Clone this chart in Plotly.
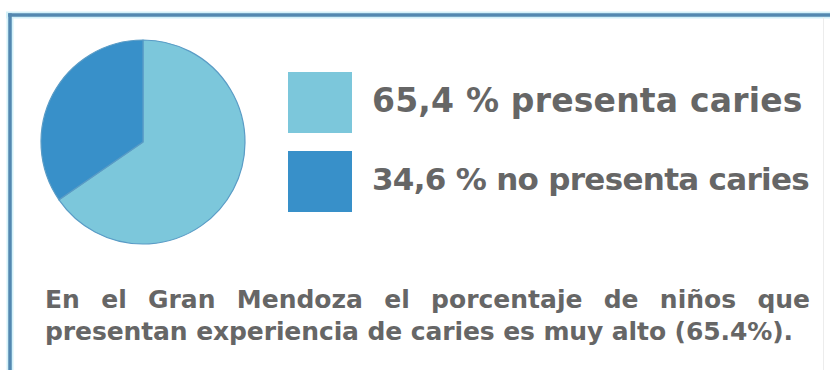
import plotly.graph_objects as go

W, H = 830, 370

# Data
categories = ["presenta caries", "no presenta caries"]
values = [65.4, 34.6]
value_labels = ["65,4", "34,6"]
slice_colors = ["#7cc7db", "#3890c9"]

summary_lines = [
    "En el Gran Mendoza el porcentaje de niños que",
    "presentan experiencia de caries es muy alto (65.4%).",
]

TEXT_FONT = "DejaVu Sans, Verdana, sans-serif"
TEXT_COLOR = "#666666"


def px(x):
    return x / W


def py(y):
    return 1 - y / H


fig = go.Figure()

# Pie chart, first slice starting at 12 o'clock going clockwise
fig.add_trace(go.Pie(
    labels=categories,
    values=values,
    sort=False,
    direction="clockwise",
    rotation=0,
    textinfo="none",
    hoverinfo="label+percent",
    showlegend=False,
    marker=dict(colors=slice_colors, line=dict(color="#5a9cc6", width=1.2)),
    domain=dict(x=[px(41), px(245)], y=[py(244), py(40)]),
))

shapes = []
# Frame: soft glow, then the blue top and left rules, faint right edge
shapes.append(dict(type="line", xref="paper", yref="paper",
                   x0=px(6), x1=px(W), y0=py(15), y1=py(15),
                   line=dict(color="#d3f1f9", width=7)))
shapes.append(dict(type="line", xref="paper", yref="paper",
                   x0=px(10), x1=px(10), y0=py(13), y1=py(H + 5),
                   line=dict(color="#d3f1f9", width=7)))
shapes.append(dict(type="line", xref="paper", yref="paper",
                   x0=px(8.2), x1=px(W), y0=py(15), y1=py(15),
                   line=dict(color="#5388b0", width=3.5)))
shapes.append(dict(type="line", xref="paper", yref="paper",
                   x0=px(10), x1=px(10), y0=py(13.3), y1=py(H + 5),
                   line=dict(color="#5388b0", width=3.5)))
shapes.append(dict(type="line", xref="paper", yref="paper",
                   x0=px(823.5), x1=px(823.5), y0=py(17), y1=py(H + 5),
                   line=dict(color="#ececec", width=1)))

# Legend swatches
swatch_tops = [72, 151]
for color, top in zip(slice_colors, swatch_tops):
    shapes.append(dict(type="rect", xref="paper", yref="paper",
                       x0=px(288), x1=px(352), y0=py(top + 61), y1=py(top),
                       fillcolor=color, line=dict(width=0)))

annotations = []
# Legend texts
legend_centers = [100, 178.5]
legend_sizes = [33, 31]
legend_spacing = [0.2, -0.7]
for lbl, cat, yc, fs, ls in zip(value_labels, categories, legend_centers,
                                legend_sizes, legend_spacing):
    annotations.append(dict(
        xref="paper", yref="paper", x=px(370), y=py(yc),
        xanchor="left", yanchor="middle", showarrow=False,
        text=f'<span style="letter-spacing:{ls}px"><b>{lbl} % {cat}</b></span>',
        font=dict(family=TEXT_FONT, size=fs, color=TEXT_COLOR),
    ))

# Summary paragraph (first line justified via word spacing)
summary_centers = [299, 331]
summary_styles = ["letter-spacing:0px;word-spacing:12.6px", "letter-spacing:-0.1px"]
for line, yc, st in zip(summary_lines, summary_centers, summary_styles):
    annotations.append(dict(
        xref="paper", yref="paper", x=px(43), y=py(yc),
        xanchor="left", yanchor="middle", showarrow=False,
        text=f'<span style="{st}"><b>{line}</b></span>',
        font=dict(family=TEXT_FONT, size=25, color=TEXT_COLOR),
    ))

fig.update_layout(
    width=W, height=H,
    margin=dict(l=0, r=0, t=0, b=0),
    paper_bgcolor="white",
    plot_bgcolor="white",
    shapes=shapes,
    annotations=annotations,
)

fig.write_html("out.html", config=dict(displayModeBar=False))
